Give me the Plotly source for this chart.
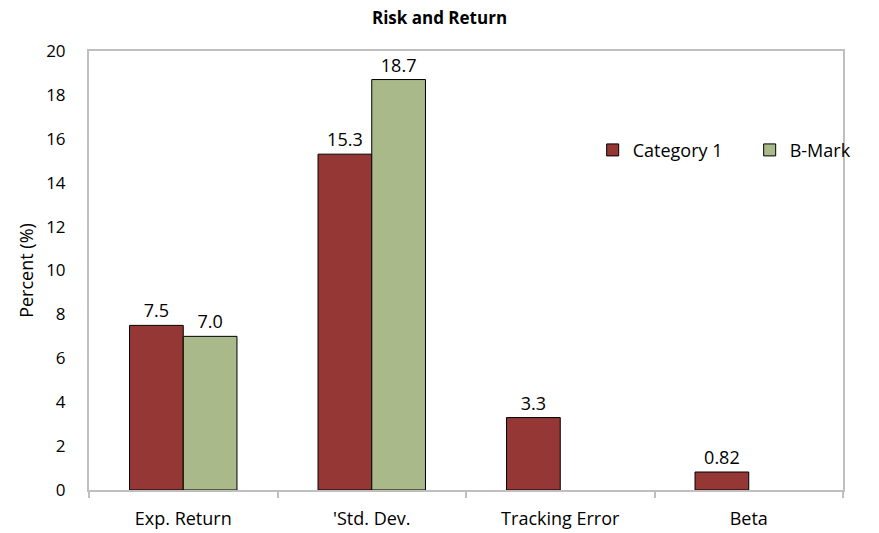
import plotly.graph_objects as go

categories = ["Exp. Return", "'Std. Dev.", "Tracking Error", "Beta"]
cat1_values = [7.5, 15.3, 3.3, 0.82]
cat1_labels = ["7.5", "15.3", "3.3", "0.82"]
bmark_values = [7.0, 18.7, None, None]
bmark_labels = ["7.0", "18.7", "", ""]
y_ticks = [0, 2, 4, 6, 8, 10, 12, 14, 16, 18, 20]

FONT = "'Open Sans', Calibri, sans-serif"
FS = 18

fig = go.Figure()
fig.add_trace(go.Bar(
    name="Category 1", x=categories, y=cat1_values,
    text=cat1_labels, textposition="outside", cliponaxis=False,
    marker=dict(color="#953735", line=dict(color="black", width=1)),
    textfont=dict(size=FS, color="black"),
))
fig.add_trace(go.Bar(
    name="B-Mark", x=categories, y=bmark_values,
    text=bmark_labels, textposition="outside", cliponaxis=False,
    marker=dict(color="#A9B98A", line=dict(color="black", width=1)),
    textfont=dict(size=FS, color="black"),
))

fig.update_layout(
    width=879, height=533,
    margin=dict(l=89, r=36, t=51, b=43, autoexpand=False),
    paper_bgcolor="white", plot_bgcolor="white",
    font=dict(family=FONT, size=FS, color="black"),
    title=dict(text="<b>Risk and Return</b>", x=0.5, xanchor="center",
               y=0.966, yanchor="middle",
               font=dict(size=17, family="'Open Sans', sans-serif")),
    barmode="group", bargap=0.43, bargroupgap=0,
    showlegend=True,
    legend=dict(orientation="h", x=0.668, y=0.774, xanchor="left", yanchor="middle",
                bgcolor="rgba(0,0,0,0)", font=dict(size=FS),
                entrywidth=112, entrywidthmode="pixels",
                traceorder="normal"),
)
fig.update_xaxes(
    showline=True, linecolor="#BFBFBF", linewidth=2, mirror=True,
    ticks="outside", tickson="boundaries", ticklen=6, tickcolor="#BFBFBF", tickwidth=2,
    showgrid=False, tickfont=dict(size=FS), ticklabelstandoff=11, automargin=False,
)
fig.update_yaxes(
    range=[0, 20], tickvals=y_ticks, showgrid=False, zeroline=False,
    showline=True, linecolor="#BFBFBF", linewidth=2, mirror=True,
    ticks="", ticklabelstandoff=18, automargin=False,
    title=dict(text="Percent (%)", font=dict(size=FS), standoff=8),
    tickfont=dict(size=17),
)

fig.write_html("out.html")
